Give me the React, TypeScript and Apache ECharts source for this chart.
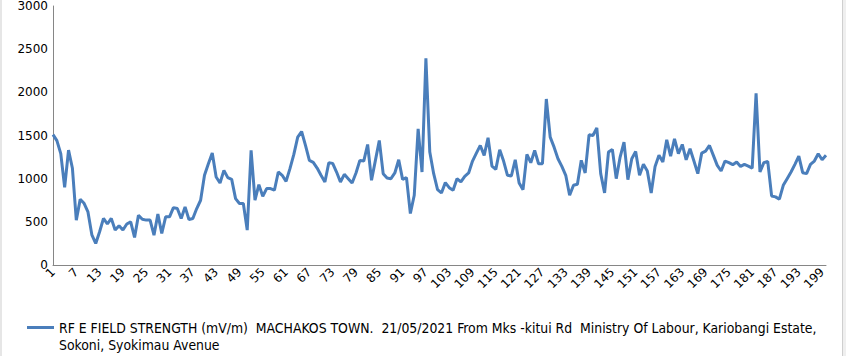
import React, { useEffect, useRef } from "react";
import * as echarts from "echarts";

const seriesName =
  "RF E FIELD STRENGTH (mV/m)  MACHAKOS TOWN.  21/05/2021 From Mks -kitui Rd  Ministry Of Labour, Kariobangi Estate, Sokoni, Syokimau Avenue";
const legendLine1 =
  "RF E FIELD STRENGTH (mV/m)  MACHAKOS TOWN.  21/05/2021 From Mks -kitui Rd  Ministry Of Labour, Kariobangi Estate,";
const legendLine2 = "Sokoni, Syokimau Avenue";

const yTicks = [0, 500, 1000, 1500, 2000, 2500, 3000];

const fieldStrength = [
  1510, 1440, 1290, 900, 1330, 1120, 520, 760, 715, 615,
  350, 250, 385, 540, 475, 540, 405, 455, 405, 475,
  500, 320, 575, 530, 520, 520, 345, 590, 365, 558,
  558, 665, 654, 539, 673, 527, 539, 654, 750, 1039,
  1173, 1296, 1019, 950, 1096, 1012, 992, 769, 712, 712,
  404, 1327, 750, 931, 796, 885, 885, 866, 1077, 1039,
  969, 1116, 1281, 1481, 1546, 1385, 1212, 1189, 1123, 1039,
  962, 1185, 1177, 1077, 962, 1050, 1000, 950, 1065, 1212,
  1204, 1396, 981, 1212, 1443, 1058, 1008, 1000, 1066, 1219,
  992, 1012, 596, 808, 1577, 1077, 2393, 1308, 1058, 873,
  835, 954, 896, 866, 1000, 962, 1027, 1066, 1204, 1296,
  1385, 1270, 1474, 1146, 1108, 1335, 1204, 1039, 1031, 1219,
  950, 873, 1281, 1185, 1327, 1173, 1173, 1923, 1481, 1365,
  1231, 1142, 1039, 808, 923, 935, 1212, 1066, 1508, 1500,
  1589, 1058, 835, 1308, 1339, 1000, 1250, 1423, 989, 1231,
  1316, 1039, 1166, 1089, 835, 1142, 1270, 1193, 1450, 1262,
  1462, 1289, 1396, 1219, 1346, 1204, 1058, 1296, 1319, 1385,
  1270, 1154, 1089, 1204, 1185, 1162, 1193, 1142, 1166, 1146,
  1123, 1989, 1077, 1185, 1200, 800, 789, 762, 923, 1000,
  1077, 1166, 1262, 1069, 1058, 1166, 1204, 1289, 1219, 1270,
];

const categories = fieldStrength.map((_, i) => String(i + 1));

export default function App() {
  const ref = useRef<HTMLDivElement>(null);
  useEffect(() => {
    if (!ref.current) return;
    const chart = echarts.init(ref.current, null, { renderer: "svg" });
    const axisFont = "DejaVu Sans";
    chart.setOption({
      animation: false,
      backgroundColor: "#ffffff",
      grid: { left: 53, right: 20, top: 5, bottom: 91, containLabel: false },
      xAxis: {
        type: "category",
        data: categories,
        boundaryGap: false,
        axisLine: { lineStyle: { color: "#868686", width: 1 } },
        axisTick: { show: false },
        axisLabel: {
          interval: 5,
          rotate: 45,
          margin: 5,
          fontFamily: axisFont,
          fontSize: 12,
          color: "#000000",
        },
        splitLine: { show: false },
      },
      yAxis: {
        type: "value",
        min: yTicks[0],
        max: yTicks[yTicks.length - 1],
        interval: 500,
        axisLine: { show: true, lineStyle: { color: "#868686", width: 1 } },
        axisTick: { show: false },
        splitLine: { show: false },
        axisLabel: {
          margin: 5,
          fontFamily: axisFont,
          fontSize: 12,
          color: "#000000",
          formatter: (v: number) => String(v),
        },
      },
      legend: {
        left: 27,
        top: 302,
        padding: 0,
        icon: "rect",
        itemWidth: 27,
        itemHeight: 3,
        itemGap: 3,
        formatter: () => " \n" + legendLine1 + "\n" + legendLine2,
        textStyle: {
          fontFamily: "DejaVu Sans Condensed",
          fontSize: 13.85,
          color: "#000000",
          lineHeight: 17,
        },
        data: [seriesName],
      },
      series: [
        {
          name: seriesName,
          type: "line",
          data: fieldStrength,
          symbol: "none",
          lineStyle: { color: "#4A7EBB", width: 3 },
          itemStyle: { color: "#4A7EBB" },
        },
      ],
      graphic: [
        { type: "rect", left: 0, top: 0, shape: { x: 0, y: 0, width: 2, height: 356 }, style: { fill: "#e6e6e6" } },
        { type: "rect", left: 842, top: 0, shape: { x: 0, y: 0, width: 1, height: 356 }, style: { fill: "#cfcfcf" } },
        { type: "rect", left: 843, top: 0, shape: { x: 0, y: 0, width: 3, height: 356 }, style: { fill: "#efefef" } },
      ],
    });
    return () => chart.dispose();
  }, []);
  return (
    <div
      ref={ref}
      style={{ position: "fixed", left: 0, top: 0, width: 846, height: 356 }}
    />
  );
}
